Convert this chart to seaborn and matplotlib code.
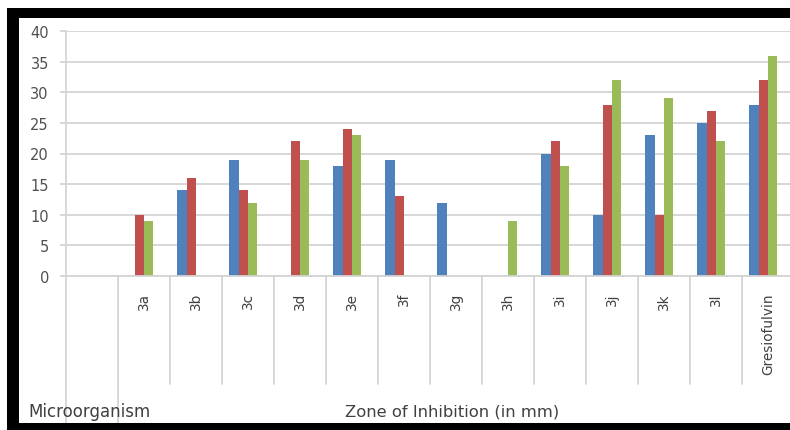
import numpy as np
import pandas as pd
import matplotlib
matplotlib.use("Agg")
import matplotlib.pyplot as plt
from matplotlib.patches import Rectangle
import seaborn as sns

# Zone of inhibition (mm) for each compound, three test organisms
compounds = ["3a", "3b", "3c", "3d", "3e", "3f", "3g", "3h", "3i", "3j", "3k", "3l", "Gresiofulvin"]
series_names = ["Series1", "Series2", "Series3"]
series1 = [0, 14, 19, 0, 18, 19, 12, 0, 20, 10, 23, 25, 28]
series2 = [10, 16, 14, 22, 24, 13, 0, 0, 22, 28, 10, 27, 32]
series3 = [9, 0, 12, 19, 23, 0, 0, 9, 18, 32, 29, 22, 36]
yticks = [0, 5, 10, 15, 20, 25, 30, 35, 40]
colors = ["#4F81BD", "#C0504D", "#9BBB59"]

df = pd.DataFrame({
    "compound": compounds * 3,
    "series": np.repeat(series_names, len(compounds)),
    "zone": series1 + series2 + series3,
})

sns.set_theme(style="white")
plt.rcParams["font.family"] = ["DejaVu Sans"]

W, H = 790, 431
fig = plt.figure(figsize=(W / 100, H / 100), dpi=100)
fig.patch.set_facecolor("white")

# axes geometry in pixels
x0, x1 = 66, 794
y_top, y_zero = 32, 277
ax = fig.add_axes([x0 / W, (H - y_zero) / H, (x1 - x0) / W, (y_zero - y_top) / H])

sns.barplot(data=df, x="compound", y="zone", hue="series", order=compounds,
            hue_order=series_names, palette=colors, width=0.54, linewidth=0,
            saturation=1, legend=False, ax=ax)

ax.set_xlim(-1.41, len(compounds) - 0.41)
ax.set_ylim(0, 40)
ax.set_yticks(yticks)
ax.set_yticklabels([str(t) for t in yticks], fontsize=10.5, color="#505050")
ax.set_xticks([])
ax.set_xlabel("")
ax.set_ylabel("")
grid_c = "#d4d4d4"
ax.yaxis.grid(True, color=grid_c, linewidth=1.3)
ax.set_axisbelow(True)
ax.tick_params(axis="y", length=4.3, width=1.3, color=grid_c, pad=8, left=True)
for s in ["top", "right"]:
    ax.spines[s].set_visible(False)
for s in ["left", "bottom"]:
    ax.spines[s].set_color(grid_c)
    ax.spines[s].set_linewidth(1.3)

units_per_px = 40 / (y_zero - y_top)


def py(p):
    """Figure pixel row -> data y."""
    return (y_zero - p) * units_per_px


# category table under the axis
for i in range(-1, len(compounds) + 1):
    xb = i - 0.41
    bottom = py(425) if i <= 0 else py(385)
    ax.plot([xb, xb], [0, bottom], color=grid_c, lw=1.3, clip_on=False, zorder=1)

for i, name in enumerate(compounds):
    ax.text(i + 0.09, py(293), name, rotation=90, ha="center", va="top",
            fontsize=9.8, color="#404040", clip_on=False)

ax.text(-1.41 - 38 / 52, py(412), "Microorganism", ha="left", va="center",
        fontsize=12, color="#404040", clip_on=False)
ax.text((452 - x0) / 52 - 1.41, py(412), "Zone of Inhibition (in mm)",
        ha="center", va="center", fontsize=11.8, color="#404040", clip_on=False)

# black frame
def band(px0, py0, px1, py1):
    fig.patches.append(Rectangle((px0 / W, (H - py1) / H), (px1 - px0) / W, (py1 - py0) / H,
                                 transform=fig.transFigure, facecolor="black",
                                 edgecolor="none", zorder=10))


band(7, 9, 19, H)
band(7, 9, W, 19)
band(7, 424, W, H)

fig.savefig("out.png", dpi=100)
